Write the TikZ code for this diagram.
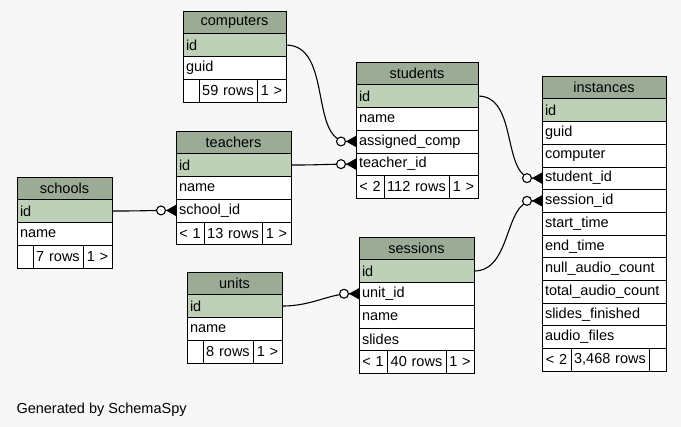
\documentclass[tikz,border=0pt]{standalone}
\usepackage{fontspec}
\setmainfont{Liberation Sans}
\usetikzlibrary{positioning}
\usetikzlibrary{arrows.meta}

\definecolor{bgcol}{HTML}{F7F7F7}
\definecolor{headcol}{HTML}{9BAB96}
\definecolor{keycol}{HTML}{BED1B8}

\tikzset{
	cell/.style={draw, anchor=north west, outer sep=0pt, inner xsep=3pt, inner ysep=0pt, minimum height=22.7pt, text width=#1, font=\fontsize{14.5}{16}\selectfont},
	head/.style={cell=#1, fill=headcol, align=center},
	pk/.style={cell=#1, fill=keycol, align=left},
	col/.style={cell=#1, fill=white, align=left},
	foot/.style={cell=#1, fill=white, align=center, inner xsep=0pt},
	fk/.style={line width=1.1pt, -{Circle[fill=white,length=10pt,sep=0pt]Triangle[reversed,length=10pt,width=11pt]}},
}

\begin{document}
\begin{tikzpicture}[x=1pt, y=-1pt]
				
				\fill[bgcol] (0,0) rectangle (681,427);
				\useasboundingbox (0,0) rectangle (681,427);
				
				\node[head=97pt] (c-title) at (183,11) {computers};
				\node[pk=97pt] (c-id) at (c-title.south west) {id};
				\node[col=97pt] (c-guid) at (c-id.south west) {guid};
				\node[foot=16pt] (c-f1) at (c-guid.south west) {};
				\node[foot=58pt] (c-f2) at (c-f1.north east) {59 rows};
				\node[foot=29pt] (c-f3) at (c-f2.north east) {1 >};
				
				\node[head=116pt] (s-title) at (356,62) {students};
				\node[pk=116pt] (s-id) at (s-title.south west) {id};
				\node[col=116pt] (s-name) at (s-id.south west) {name};
				\node[col=116pt] (s-comp) at (s-name.south west) {assigned\_comp};
				\node[col=116pt] (s-teacher) at (s-comp.south west) {teacher\_id};
				\node[foot=28pt] (s-f1) at (s-teacher.south west) {< 2};
				\node[foot=65pt] (s-f2) at (s-f1.north east) {112 rows};
				\node[foot=29pt] (s-f3) at (s-f2.north east) {1 >};
				
				\node[head=118pt] (i-title) at (542,76) {instances};
				\node[pk=118pt] (i-id) at (i-title.south west) {id};
				\node[col=118pt] (i-guid) at (i-id.south west) {guid};
				\node[col=118pt] (i-comp) at (i-guid.south west) {computer};
				\node[col=118pt] (i-student) at (i-comp.south west) {student\_id};
				\node[col=118pt] (i-session) at (i-student.south west) {session\_id};
				\node[col=118pt] (i-start) at (i-session.south west) {start\_time};
				\node[col=118pt] (i-end) at (i-start.south west) {end\_time};
				\node[col=118pt] (i-null) at (i-end.south west) {null\_audio\_count};
				\node[col=118pt] (i-total) at (i-null.south west) {total\_audio\_count};
				\node[col=118pt] (i-slides) at (i-total.south west) {slides\_finished};
				\node[col=118pt] (i-files) at (i-slides.south west) {audio\_files};
				\node[foot=29pt] (i-f1) at (i-files.south west) {< 2};
				\node[foot=78pt] (i-f2) at (i-f1.north east) {3,468 rows};
				\node[foot=17pt] (i-f3) at (i-f2.north east) {};
				
				\node[head=89pt] (sc-title) at (17,177) {schools};
				\node[pk=89pt] (sc-id) at (sc-title.south west) {id};
				\node[col=89pt] (sc-name) at (sc-id.south west) {name};
				\node[foot=16pt] (sc-f1) at (sc-name.south west) {};
				\node[foot=50pt] (sc-f2) at (sc-f1.north east) {7 rows};
				\node[foot=29pt] (sc-f3) at (sc-f2.north east) {1 >};
				
				\node[head=109pt] (t-title) at (176,131) {teachers};
				\node[pk=109pt] (t-id) at (t-title.south west) {id};
				\node[col=109pt] (t-name) at (t-id.south west) {name};
				\node[col=109pt] (t-school) at (t-name.south west) {school\_id};
				\node[foot=28pt] (t-f1) at (t-school.south west) {< 1};
				\node[foot=58pt] (t-f2) at (t-f1.north east) {13 rows};
				\node[foot=29pt] (t-f3) at (t-f2.north east) {1 >};
				
				\node[head=89pt] (u-title) at (187,272) {units};
				\node[pk=89pt] (u-id) at (u-title.south west) {id};
				\node[col=89pt] (u-name) at (u-id.south west) {name};
				\node[foot=16pt] (u-f1) at (u-name.south west) {};
				\node[foot=50pt] (u-f2) at (u-f1.north east) {8 rows};
				\node[foot=29pt] (u-f3) at (u-f2.north east) {1 >};
				
				\node[head=109pt] (se-title) at (359,237) {sessions};
				\node[pk=109pt] (se-id) at (se-title.south west) {id};
				\node[col=109pt] (se-unit) at (se-id.south west) {unit\_id};
				\node[col=109pt] (se-name) at (se-unit.south west) {name};
				\node[col=109pt] (se-slides) at (se-name.south west) {slides};
				\node[foot=28pt] (se-f1) at (se-slides.south west) {< 1};
				\node[foot=59pt] (se-f2) at (se-f1.north east) {40 rows};
				\node[foot=28pt] (se-f3) at (se-f2.north east) {1 >};
				
				\draw[fk] (c-id.east) to[out=0,in=180] (s-comp.west);
				\draw[fk] (t-id.east) to[out=0,in=180] (s-teacher.west);
				\draw[fk] (sc-id.east) to[out=0,in=180] (t-school.west);
				\draw[fk] (u-id.east) to[out=0,in=180] (se-unit.west);
				\draw[fk] (s-id.east) to[out=0,in=180] (i-student.west);
				\draw[fk] (se-id.east) to[out=0,in=180] (i-session.west);
				
				\node[anchor=west, font=\fontsize{14.5}{16}\selectfont] (gen) at (13,410) {Generated by SchemaSpy};
				
			\end{tikzpicture}
\end{document}
